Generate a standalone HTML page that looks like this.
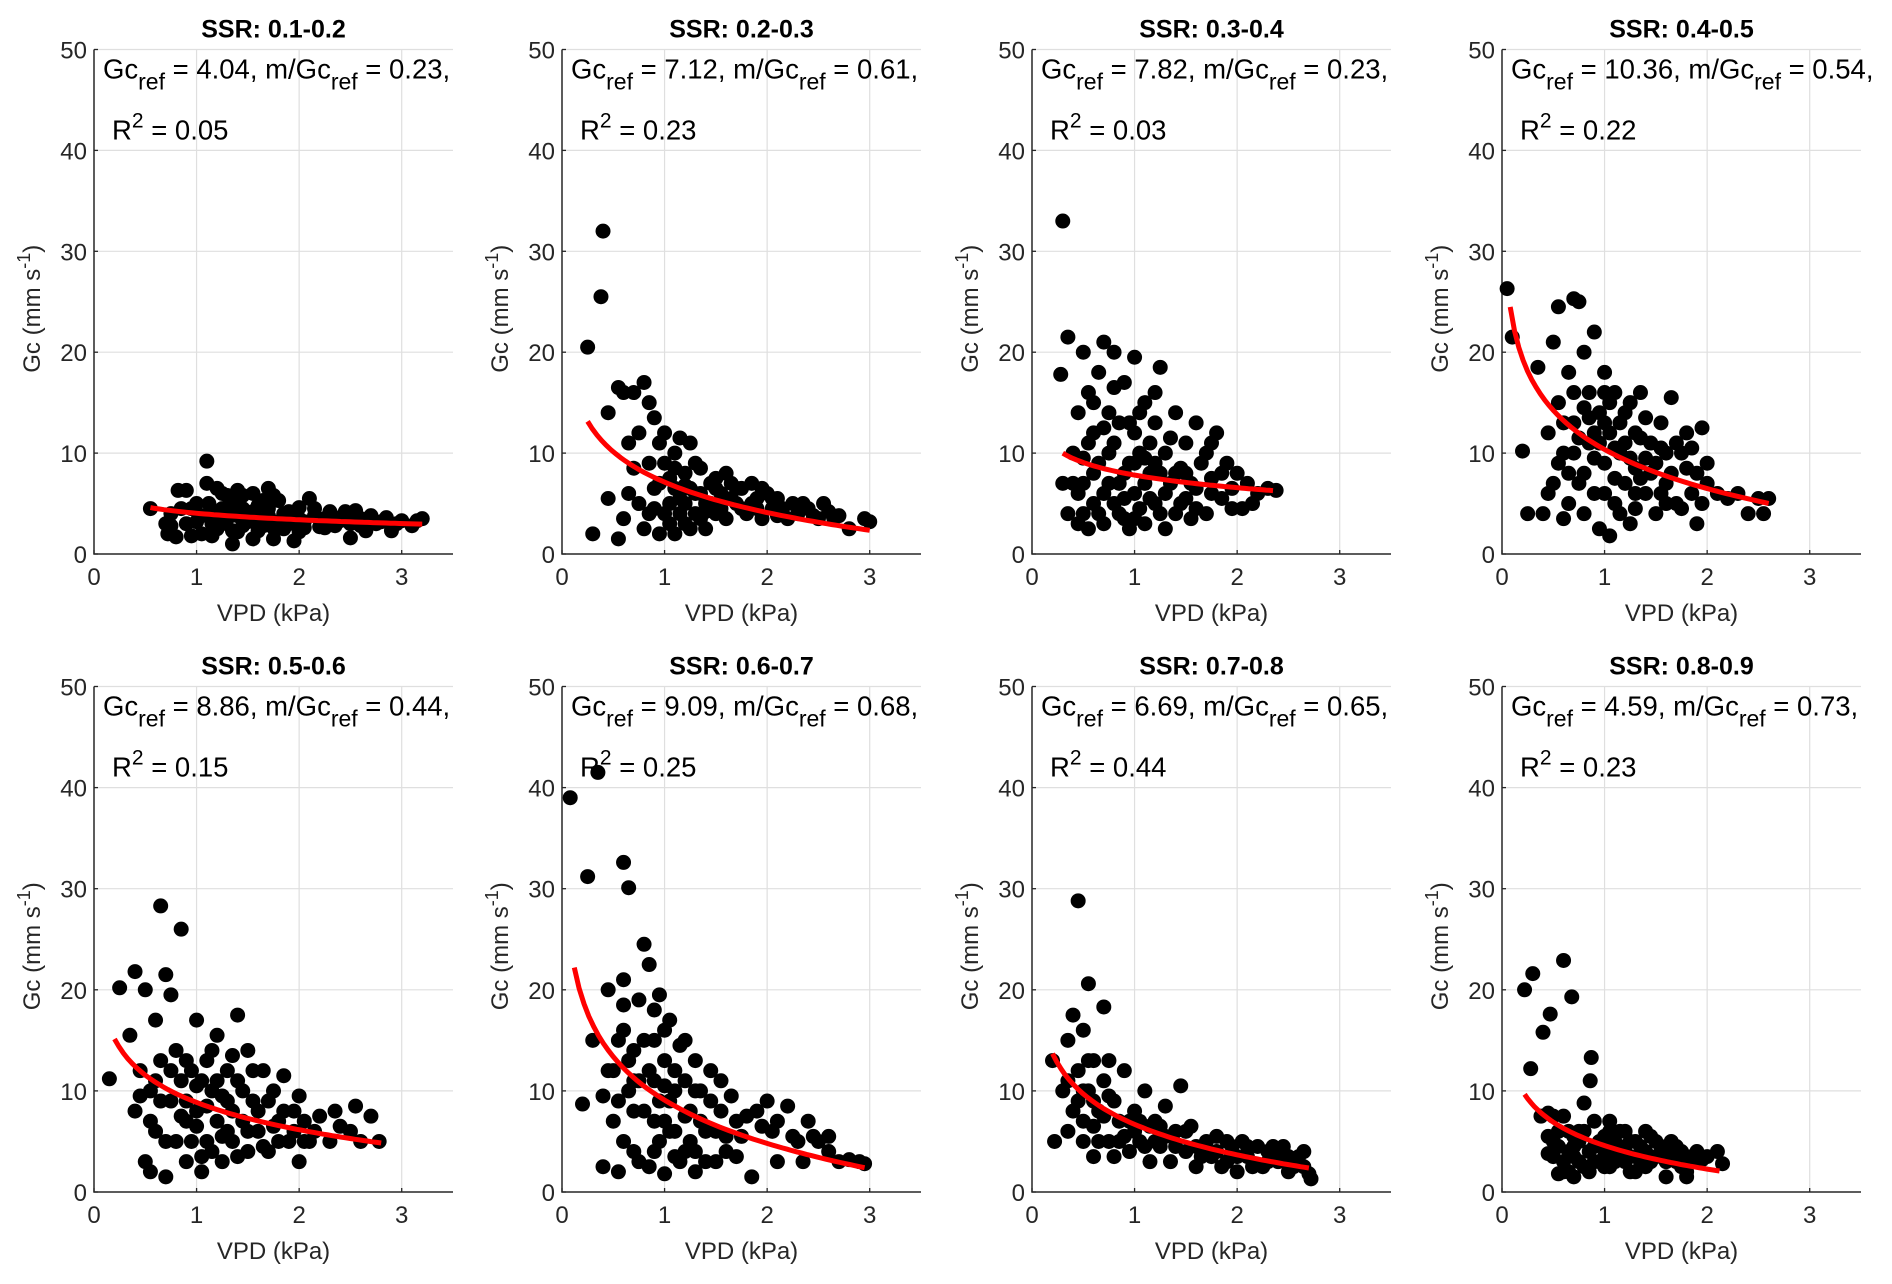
<!DOCTYPE html>
<html><head><meta charset="utf-8"><style>
html,body{margin:0;padding:0;background:#fff}
svg{display:block;font-family:"Liberation Sans",sans-serif}
</style></head><body>
<svg id="fig" width="1892" height="1284" viewBox="0 0 1892 1284" xmlns="http://www.w3.org/2000/svg"></svg>
<script>
const titles=["SSR: 0.1-0.2","SSR: 0.2-0.3","SSR: 0.3-0.4","SSR: 0.4-0.5","SSR: 0.5-0.6","SSR: 0.6-0.7","SSR: 0.7-0.8","SSR: 0.8-0.9"];
const gcref=[4.04,7.12,7.82,10.36,8.86,9.09,6.69,4.59];
const ratio=[0.23,0.61,0.23,0.54,0.44,0.68,0.65,0.73];
const r2=["0.05","0.23","0.03","0.22","0.15","0.25","0.44","0.23"];
const fitStart=[0.55,0.25,0.3,0.08,0.2,0.12,0.2,0.22];
const fitEnd=[3.2,3.0,2.35,2.6,2.8,2.95,2.7,2.12];
const xTicks=[0,1,2,3];
const yTicks=[0,10,20,30,40,50];
const pts1=[[0.55,4.5],[0.7,3],[0.72,2],[0.75,4],[0.8,1.7],[0.82,6.3],[0.9,6.3],[0.95,1.8],[0.95,4.5],[1.0,3.2],[1.05,2],[1.1,9.2],[1.1,7],[1.12,5],[1.15,3],[1.2,6.5],[1.2,2.5],[1.25,4.5],[1.3,5.8],[1.3,3.5],[1.35,1],[1.4,6.3],[1.4,2.2],[1.45,4.5],[1.5,3.2],[1.55,6],[1.55,1.5],[1.6,4.8],[1.65,2.8],[1.7,6.5],[1.7,3.8],[1.75,1.5],[1.8,5.3],[1.85,2.5],[1.9,4.2],[1.95,1.3],[2.0,3.5],[2.05,2.6],[2.1,5.5],[2.15,4.5],[2.2,2.7],[2.25,3.5],[2.3,4.2],[2.35,2.8],[2.45,4.2],[2.5,1.6],[2.5,3],[2.6,3.5],[2.65,2.3],[2.7,3.8],[2.8,3.2],[2.85,3.6],[2.9,2.3],[3.0,3.3],[3.1,2.8],[3.15,3.3],[3.2,3.5],[1.3,4],[1.5,4],[1.7,4.5],[1.8,3.2],[1.6,3.5],[1.9,3],[1.2,3.8],[1.4,3.8],[2.0,4.6],
[1.15,4],[1.25,3],[1.35,5],[1.45,2.8],[1.55,4.2],[1.65,5.3],[1.75,2.6],[1.85,4],[1.95,3.6],[2.05,3.2],[2.15,3.8],[2.25,2.6],[2.35,3.6],[2.55,4.3],[2.75,3],[2.95,3],[1.0,5],[0.85,4.5],[1.35,2.3],[1.6,2.3],[1.25,6],[1.45,5.8],[0.75,2.8],[1.05,3.8],[2.4,3.3],[2.0,2.2],[1.75,5.8],[1.15,1.8],[0.9,3],[2.6,2.8]];
const pts2=[[0.25,20.5],[0.38,25.5],[0.4,32],[0.3,2],[0.45,5.5],[0.45,14],[0.55,16.5],[0.6,16],[0.7,16],[0.8,17],[0.85,15],[0.9,13.5],[0.65,11],[0.7,8.5],[0.6,3.5],[0.55,1.5],[0.75,5],[0.8,2.5],[0.85,9],[0.9,6.5],[0.95,11],[1.0,12],[1.0,4],[1.05,7.5],[1.1,2],[1.1,10],[1.15,5.5],[1.2,8],[1.2,3],[1.25,11],[1.3,6],[1.3,4],[1.35,8.5],[1.4,5],[1.4,2.5],[1.45,7],[1.5,4],[1.55,6],[1.6,8],[1.6,3.5],[1.7,5],[1.75,6.5],[1.8,4],[1.85,7],[1.9,5.5],[1.95,3.5],[2.0,6],[2.05,4.5],[2.1,5.5],[2.2,3.5],[2.25,5],[2.3,4],[2.4,4.5],[2.5,3.5],[2.55,5],[2.65,3.5],[2.7,3.8],[2.8,2.5],[2.95,3.5],[3.0,3.2],[1.0,9],[1.1,6.5],[1.2,5],[1.3,9],[1.05,3],[0.95,7],[1.5,6.5],[1.65,7],
[1.05,5],[1.15,4],[1.25,6.5],[1.35,3.5],[1.45,5],[1.55,4.5],[1.65,5.5],[1.75,4.5],[1.85,5],[1.95,6.5],[2.05,5.5],[2.15,4.5],[2.35,5],[2.45,3.8],[2.6,4.2],[1.1,8.5],[1.2,6.8],[1.35,6],[0.9,4.5],[0.95,2],[1.15,11.5],[0.75,12],[0.65,6],[0.85,4],[1.25,2.5],[1.5,7.5],[1.7,6.5],[1.9,4.5],[2.1,3.8],[1.4,4.2]];
const pts3=[[0.3,33],[0.28,17.8],[0.35,21.5],[0.3,7],[0.35,4],[0.4,10],[0.45,14],[0.45,3],[0.5,20],[0.5,7],[0.55,16],[0.55,2.5],[0.6,12],[0.6,5],[0.65,18],[0.65,9],[0.7,21],[0.7,3],[0.75,14],[0.75,7],[0.8,20],[0.8,11],[0.85,4],[0.9,17],[0.9,8],[0.95,13],[0.95,2.5],[1.0,19.5],[1.0,6],[1.05,10],[1.1,15],[1.1,3],[1.15,8],[1.2,13],[1.2,5],[1.25,18.5],[1.3,10],[1.3,2.5],[1.35,7],[1.4,14],[1.45,5],[1.5,11],[1.5,8],[1.55,3.5],[1.6,13],[1.6,6.5],[1.7,10],[1.7,4],[1.75,7.5],[1.8,12],[1.85,5.5],[1.9,9],[1.95,6.5],[2.0,8],[2.05,4.5],[2.1,7],[2.2,6],[2.3,6.5],[2.38,6.3],[0.5,9.5],[0.6,8],[0.7,6],[0.8,5],[0.9,5.5],[1.0,9],[1.1,7],[1.2,9],[1.3,6],[1.4,8],[1.0,12],
[0.45,6],[0.55,11],[0.65,4],[0.75,10],[0.85,13],[0.9,3.5],[0.95,9],[1.05,4.5],[1.05,14],[1.15,11],[1.15,5.5],[1.25,8],[1.25,4],[1.35,11.5],[1.45,8.5],[1.55,7],[1.65,9],[1.75,6],[1.85,8],[1.5,5.5],[0.4,7],[0.6,15],[0.7,12.5],[0.8,16.5],[1.2,16],[1.4,4],[1.6,4.5],[0.5,4],[0.85,7],[1.0,3.5],[2.15,5],[1.95,4.5],[1.75,11],[1.1,9.5]];
const pts4=[[0.05,26.3],[0.1,21.5],[0.2,10.2],[0.25,4],[0.35,18.5],[0.4,4],[0.45,12],[0.5,21],[0.5,7],[0.55,24.5],[0.55,15],[0.6,10],[0.6,3.5],[0.65,18],[0.7,25.3],[0.7,13],[0.75,7],[0.75,25],[0.8,20],[0.8,4],[0.85,16],[0.85,11],[0.9,22],[0.9,6],[0.95,14],[0.95,2.5],[1.0,18],[1.0,9],[1.05,12],[1.05,1.8],[1.1,16],[1.1,5],[1.15,10],[1.2,14],[1.2,7],[1.25,3],[1.3,12],[1.3,8.5],[1.35,16],[1.4,6],[1.45,11],[1.5,4],[1.5,9],[1.55,13],[1.6,7],[1.65,15.5],[1.7,5],[1.75,10],[1.8,12],[1.85,6],[1.9,8],[1.9,3],[1.95,12.5],[2.0,9],[2.1,6],[2.2,5.5],[2.3,6],[2.4,4],[2.5,5.5],[2.55,4],[2.6,5.5],[0.65,8],[0.7,10],[0.9,12],[1.0,13],[1.2,11],[1.4,9.5],[1.6,10],[1.1,7.5],[1.3,6],
[0.55,9],[0.6,13],[0.65,5],[0.7,16],[0.75,11.5],[0.8,8],[0.85,13.5],[0.9,9.5],[0.95,11],[1.0,6],[1.05,15],[1.1,10.5],[1.15,13],[1.15,4],[1.25,9.5],[1.25,15],[1.35,7.5],[1.35,11.5],[1.45,8],[1.55,6],[1.55,10.5],[1.65,8],[1.7,11],[1.75,4.5],[1.8,8.5],[1.85,10.5],[1.95,5],[2.0,7],[1.4,13.5],[0.45,6],[0.8,14.5],[1.0,16],[1.3,4.5],[1.6,5]];
const pts5=[[0.15,11.2],[0.25,20.2],[0.35,15.5],[0.4,21.8],[0.4,8],[0.45,12],[0.5,20],[0.5,3],[0.55,10],[0.55,2],[0.6,17],[0.6,6],[0.65,28.3],[0.65,13],[0.7,21.5],[0.7,1.5],[0.75,9],[0.75,19.5],[0.8,14],[0.8,5],[0.85,26],[0.85,11],[0.9,7],[0.9,3],[0.95,12],[1.0,17],[1.0,8],[1.05,2],[1.1,13],[1.1,5],[1.15,10],[1.2,15.5],[1.2,7],[1.25,3],[1.3,12],[1.3,9],[1.35,5],[1.4,17.5],[1.4,11],[1.45,7],[1.5,4],[1.5,14],[1.55,9],[1.6,6],[1.65,12],[1.7,4],[1.75,10],[1.8,7],[1.85,11.5],[1.9,5],[1.95,8],[2.0,3],[2.05,7],[2.1,5],[2.2,7.5],[2.3,5],[2.35,8],[2.5,6],[2.55,8.5],[2.6,5],[2.7,7.5],[2.78,5],[1.0,10.5],[1.2,11],[0.9,9],[1.3,6],
[0.55,7],[0.65,9],[0.7,5],[0.75,12],[0.85,7.5],[0.9,13],[0.95,5],[1.0,6.5],[1.05,11],[1.1,8.5],[1.15,4],[1.15,14],[1.25,9.5],[1.25,5.5],[1.35,8],[1.35,13.5],[1.45,10],[1.5,6],[1.55,12],[1.6,8],[1.65,4.5],[1.7,9],[1.8,5],[1.85,8],[1.95,6],[2.05,5],[2.15,6],[2.4,6.5],[1.05,3.5],[0.45,9.5],[0.6,11],[1.4,3.5],[1.75,6.5],[2.0,9.5]];
const pts6=[[0.08,39],[0.35,41.5],[0.25,31.2],[0.6,32.6],[0.65,30.1],[0.2,8.7],[0.3,15],[0.4,9.5],[0.4,2.5],[0.45,20],[0.5,12],[0.5,7],[0.55,2],[0.6,21],[0.6,16],[0.65,10],[0.7,14],[0.7,4],[0.75,19],[0.8,24.5],[0.8,8],[0.85,22.5],[0.85,2.5],[0.9,15],[0.9,11],[0.95,19.5],[0.95,5],[1.0,13],[1.0,1.8],[1.05,17],[1.05,9],[1.1,6],[1.15,14.5],[1.15,3],[1.2,11],[1.25,8],[1.3,13],[1.3,4],[1.35,10],[1.4,6],[1.45,12],[1.5,3],[1.55,8],[1.6,5.5],[1.65,9.5],[1.7,3.5],[1.8,7.5],[1.85,1.5],[1.9,8],[2.0,9],[2.05,6],[2.1,3],[2.2,8.5],[2.3,5],[2.35,3],[2.4,7],[2.5,5],[2.6,4],[2.7,3],[2.8,3.2],[2.9,3],[2.95,2.8],[0.7,11],[0.9,7],[1.1,12],[1.2,4],[0.55,15],[1.0,7],
[0.55,9],[0.6,5],[0.65,13],[0.7,8],[0.75,11],[0.75,3],[0.8,15],[0.85,12],[0.9,4],[0.95,9],[1.0,16],[1.05,6],[1.1,10],[1.1,3.5],[1.2,7.5],[1.2,15],[1.25,5],[1.3,10],[1.35,7],[1.4,3],[1.45,9],[1.5,6],[1.55,11],[1.6,4],[1.7,7],[1.75,5.5],[1.95,6.5],[2.1,7],[2.25,5.5],[0.45,12],[0.6,18.5],[0.9,18],[1.0,10.5],[1.3,2],[2.45,5.5],[2.6,5.5]];
const pts7=[[0.2,13],[0.22,5],[0.3,10],[0.35,15],[0.4,17.5],[0.4,8],[0.45,28.8],[0.45,12],[0.5,16],[0.5,5],[0.55,20.6],[0.55,10],[0.6,13],[0.6,3.5],[0.65,8],[0.7,18.3],[0.7,11],[0.75,5],[0.8,9],[0.8,3.5],[0.85,7],[0.9,12],[0.95,4],[1.0,8],[1.05,5],[1.1,10],[1.15,3],[1.2,7],[1.25,4.5],[1.3,8.5],[1.35,3],[1.4,6],[1.45,10.5],[1.5,4],[1.55,6.5],[1.6,2.5],[1.7,5],[1.75,3.5],[1.8,5.5],[1.9,3],[1.95,4.5],[2.0,2],[2.05,5],[2.1,3.5],[2.2,4.5],[2.25,2.5],[2.3,4],[2.4,3],[2.45,4.5],[2.5,2],[2.6,3.5],[2.65,4],[2.7,1.8],[2.72,1.3],[0.35,6],[0.6,6.5],[0.9,5.5],[1.0,6],[1.2,5],
[0.35,11],[0.45,9],[0.5,7],[0.55,13],[0.6,9],[0.65,5],[0.7,7.5],[0.75,9.5],[0.85,5],[0.95,7],[1.05,7],[1.1,4.5],[1.15,6.5],[1.3,5.5],[1.4,4.5],[1.5,6],[1.6,4.5],[1.65,3.5],[1.8,4],[1.85,2.5],[1.9,5],[2.0,3.5],[2.1,4.5],[2.15,2.5],[2.3,3],[2.35,4.5],[2.5,3.5],[2.55,2.5],[2.4,4],[2.65,2.5],[0.5,10],[0.75,13],[1.25,6.5],[1.7,3.8]];
const pts8=[[0.22,20],[0.3,21.6],[0.28,12.2],[0.4,15.8],[0.47,17.6],[0.6,22.9],[0.68,19.3],[0.87,13.3],[0.86,11],[0.8,8.8],[0.38,7.5],[0.45,7.8],[0.5,5],[0.5,3.5],[0.55,6],[0.6,7.5],[0.6,2],[0.65,4],[0.7,1.5],[0.7,5.5],[0.75,3],[0.8,6],[0.85,2],[0.9,4.5],[0.9,7],[0.95,3],[1.0,5.5],[1.05,2.5],[1.05,7],[1.1,4],[1.15,6],[1.2,3],[1.25,5],[1.3,2],[1.35,4.5],[1.4,6],[1.45,3],[1.5,5],[1.55,3.5],[1.6,1.5],[1.65,5],[1.7,3],[1.75,4],[1.8,2],[1.85,3.5],[1.9,3],[2.0,3.5],[2.1,4],[2.15,2.8],[0.45,3.8],[0.7,3.5],[1.0,3.5],[1.2,4.5],
[0.45,5.5],[0.5,7.5],[0.55,4.5],[0.6,3],[0.65,6],[0.7,4.5],[0.75,5],[0.8,2.5],[0.85,4],[0.9,3],[0.95,5],[1.0,2.5],[1.0,4.5],[1.05,6],[1.1,3],[1.1,5],[1.15,4],[1.2,6],[1.25,3.5],[1.3,5],[1.35,3],[1.4,4],[1.45,5.5],[1.5,3.5],[1.55,4.5],[1.6,3],[1.65,4],[1.7,4.5],[1.75,2.5],[1.8,3.5],[1.9,4],[1.95,3.2],[0.65,2],[0.55,1.8],[0.75,6],[1.25,2],[1.8,1.5],[1.4,2.5]];
const allPts=[pts1,pts2,pts3,pts4,pts5,pts6,pts7,pts8];

const NS="http://www.w3.org/2000/svg";
const svg=document.getElementById('fig');
function mk(tag,attrs,parent,text){const e=document.createElementNS(NS,tag);for(const k in attrs)e.setAttribute(k,attrs[k]);if(text!==undefined)e.textContent=text;parent.appendChild(e);return e;}
const colL=[94,562,1032,1502], W=359;
const rowT=[49.5,686.5], rowB=[554,1192];
for(let p=0;p<8;p++){
  const L=colL[p%4], T=rowT[Math.floor(p/4)], B=rowB[Math.floor(p/4)];
  const xs=v=>L+v/3.5*W, ys=v=>B-v/50*(B-T);
  const g=mk('g',{},svg);
  
  
  xTicks.forEach(t=>{ if(t>0){const l=mk('line',{x1:xs(t),x2:xs(t),y1:T,y2:B,stroke:'#dfdfdf','stroke-width':1.2},g);}
    const tx=mk('text',{x:xs(t),y:B+31,'text-anchor':'middle','font-size':24,fill:'#262626'},g,String(t));
    
    const tk=mk('line',{x1:xs(t),x2:xs(t),y1:B,y2:B-4,stroke:'#262626','stroke-width':1.3},g);
    });
  yTicks.forEach(t=>{ if(t>0){const l=mk('line',{x1:L,x2:L+W,y1:ys(t),y2:ys(t),stroke:'#dfdfdf','stroke-width':1.2},g);}
    const tx=mk('text',{x:L-7,y:ys(t)+9,'text-anchor':'end','font-size':24,fill:'#262626'},g,String(t));
    
    const tk=mk('line',{x1:L,x2:L+4,y1:ys(t),y2:ys(t),stroke:'#262626','stroke-width':1.3},g);
    });
  const ax=mk('path',{d:`M${L},${T} V${B} H${L+W}`,fill:'none',stroke:'#262626','stroke-width':1.5},g);
  
  allPts[p].forEach(q=>{const c=mk('circle',{cx:xs(q[0]),cy:ys(q[1]),r:7.5,fill:'#000'},g);
    });
  let d='';
  for(let i=0;i<=60;i++){const v=fitStart[p]+(fitEnd[p]-fitStart[p])*i/60;const y=gcref[p]-ratio[p]*gcref[p]*Math.log(v);d+=(i?'L':'M')+xs(v).toFixed(1)+','+ys(y).toFixed(1);}
  const fl=mk('path',{d:d,fill:'none',stroke:'#ff0000','stroke-width':5},g);
  
  const ti=mk('text',{x:L+W/2,y:T-12,'text-anchor':'middle','font-size':25,'font-weight':'bold',fill:'#000'},g,titles[p]);
  
  const a1=mk('text',{x:L+9,y:T+29,'font-size':27.5,fill:'#000'},g);
  
  a1.innerHTML=`Gc<tspan dy="11" font-size="23">ref</tspan><tspan dy="-11"> = ${gcref[p].toFixed(2)}, m/Gc</tspan><tspan dy="11" font-size="23">ref</tspan><tspan dy="-11"> = ${ratio[p].toFixed(2)},</tspan>`;
  const a2=mk('text',{x:L+18,y:T+90,'font-size':27.5,fill:'#000'},g);
  
  a2.innerHTML=`R<tspan dy="-12" font-size="21">2</tspan><tspan dy="12"> = ${r2[p]}</tspan>`;
  const xl=mk('text',{x:L+W/2,y:B+67,'text-anchor':'middle','font-size':24,fill:'#262626'},g,'VPD (kPa)');
  
  const cy=(T+B)/2+7;
  const yl=mk('text',{x:0,y:0,'text-anchor':'middle','font-size':24,fill:'#262626'},g);
  
  yl.innerHTML=`Gc (mm s<tspan dy="-10" font-size="18">-1</tspan><tspan dy="10">)</tspan>`;
  yl.setAttribute('transform',`translate(${L-54},${cy}) rotate(-90)`);
}
</script>
</body></html>
